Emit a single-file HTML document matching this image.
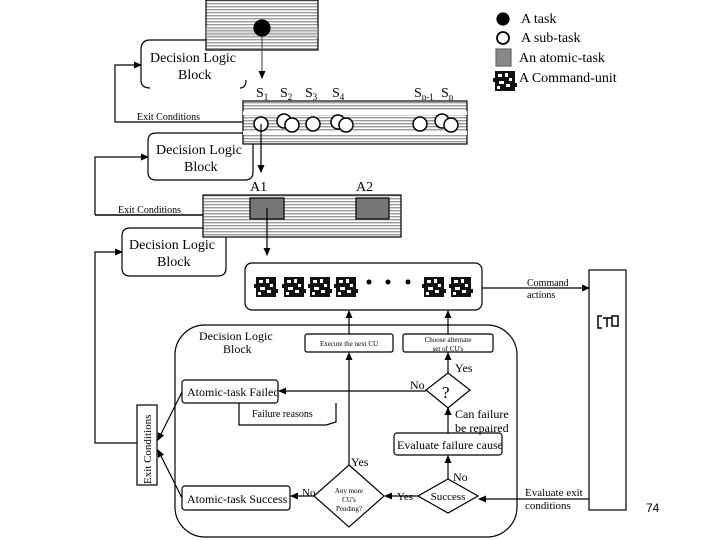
<!DOCTYPE html>
<html><head><style>
html,body{margin:0;padding:0;background:#fff;}
svg{display:block;font-family:"Liberation Serif",serif;}
</style></head><body>
<svg width="720" height="540" viewBox="0 0 720 540" xmlns="http://www.w3.org/2000/svg">
<defs>
<pattern id="st" width="4" height="3" patternUnits="userSpaceOnUse">
<rect width="4" height="3" fill="#fff"/><rect width="4" height="1.4" fill="#9a9a9a"/>
</pattern>
<marker id="ar" markerWidth="8" markerHeight="8" refX="7" refY="4" orient="auto" markerUnits="userSpaceOnUse">
<path d="M0,0.5 L8,4 L0,7.5 z" fill="#000"/></marker>
<g id="cu">
<rect x="0" y="0" width="20" height="20" fill="#111"/>
<rect x="3" y="3" width="4" height="3" fill="#fff"/><rect x="10" y="2" width="3" height="4" fill="#fff"/>
<rect x="14" y="7" width="3" height="3" fill="#fff"/><rect x="4" y="10" width="5" height="3" fill="#fff"/>
<rect x="11" y="13" width="4" height="3" fill="#fff"/><rect x="2" y="15" width="3" height="3" fill="#fff"/>
<rect x="-2" y="7" width="3" height="4" fill="#111"/><rect x="19" y="12" width="3" height="4" fill="#111"/>
</g>
</defs>
<g stroke="#000" fill="none" stroke-width="1.2">
<!-- top task box -->
<rect x="206" y="0" width="112" height="50" fill="url(#st)"/>
<rect x="206" y="27" width="112" height="11" fill="#bbb" stroke="none" opacity="0.5"/>
<circle cx="262" cy="28" r="8" fill="#000"/>
<line x1="262" y1="36" x2="262" y2="78" stroke="#555" marker-end="url(#ar)"/>
<path d="M206,40 H150 Q141,40 141,50 V80 Q141,88 150,88" />
<path d="M246,80 Q246,88 240,88"/>
<!-- exit 1 -->
<path d="M243,122 H115 V65 H141" marker-end="url(#ar)"/>
<!-- subtask box -->
<rect x="243" y="101" width="224" height="43" fill="url(#st)"/>
<rect x="243" y="111" width="224" height="4" fill="#fff" stroke="none"/>
<rect x="243" y="131" width="224" height="4" fill="#fff" stroke="none"/>
<g fill="#fff" stroke-width="1.5">
<circle cx="261" cy="124" r="7"/><circle cx="284" cy="121" r="7"/><circle cx="292" cy="125" r="7"/>
<circle cx="313" cy="124" r="7"/><circle cx="338" cy="122" r="7"/><circle cx="346" cy="125" r="7"/>
<circle cx="420" cy="124" r="7"/><circle cx="442" cy="121" r="7"/><circle cx="451" cy="125" r="7"/>
</g>
<line x1="261" y1="124" x2="261" y2="172" marker-end="url(#ar)"/>
<!-- DLB2 -->
<path d="M253,144 V172 Q253,180 245,180 H156 Q148,180 148,172 V141 Q148,133 156,133 H243"/>
<path d="M95,215 V157 H148" marker-end="url(#ar)"/>
<!-- atomic box -->
<rect x="203" y="195" width="198" height="42" fill="url(#st)"/>
<rect x="250" y="198" width="34" height="21" fill="#777"/>
<rect x="356" y="198" width="33" height="21" fill="#777"/>
<line x1="95" y1="215" x2="203" y2="215" stroke-width="1.5"/>
<line x1="267" y1="208" x2="267" y2="255" marker-end="url(#ar)"/>
<!-- DLB3 -->
<path d="M203,228 H130 Q122,228 122,236 V268 Q122,276 130,276 H218 Q226,276 226,268 V237"/>
<path d="M137,443 H95 V252 H122" marker-end="url(#ar)"/>
<!-- CU box -->
<rect x="245" y="263" width="237" height="47" rx="7"/>
<line x1="482" y1="288" x2="589" y2="288" marker-end="url(#ar)"/>
<rect x="589" y="270" width="37" height="240"/>
<path d="M602,316 H598 V328 H602 M603,318 H612 M607,318 V327 M612,316 V326 H618 V316 Z" stroke-width="1.5"/>
<!-- Big DLB -->
<rect x="175" y="325" width="342" height="212" rx="30"/>
<rect x="305" y="334" width="88" height="18" rx="2"/>
<rect x="403" y="334" width="90" height="18" rx="2"/>
<line x1="349" y1="334" x2="349" y2="311" marker-end="url(#ar)"/>
<line x1="448" y1="334" x2="448" y2="311" marker-end="url(#ar)"/>
<line x1="349" y1="465" x2="349" y2="353" marker-end="url(#ar)"/>
<polygon points="448,373 470,390 448,408 426,390"/>
<line x1="448" y1="373" x2="448" y2="353" marker-end="url(#ar)"/>
<rect x="182" y="380" width="96" height="23" rx="3"/>
<line x1="426" y1="391" x2="279" y2="391" marker-end="url(#ar)"/>
<path d="M239,403 V425 H326 L336,422 V403"/>
<rect x="394" y="433" width="108" height="22" rx="3"/>
<line x1="448" y1="433" x2="448" y2="408" marker-end="url(#ar)"/>
<polygon points="448,479 478,496 448,513 418,496"/>
<line x1="448" y1="479" x2="448" y2="456" marker-end="url(#ar)"/>
<polygon points="349,465 384,496 349,527 314,496"/>
<line x1="418" y1="496" x2="385" y2="496" marker-end="url(#ar)"/>
<rect x="182" y="486" width="108" height="24" rx="3"/>
<line x1="314" y1="496" x2="291" y2="496" marker-end="url(#ar)"/>
<line x1="589" y1="499" x2="479" y2="499" marker-end="url(#ar)"/>
<rect x="137" y="405" width="20" height="80"/>
<line x1="182" y1="392" x2="158" y2="440" marker-end="url(#ar)"/>
<line x1="182" y1="498" x2="158" y2="450" marker-end="url(#ar)"/>
<!-- legend -->
<circle cx="503" cy="19" r="6" fill="#000"/>
<circle cx="503" cy="38" r="6" fill="#fff" stroke-width="1.8"/>
<rect x="496" y="49" width="15" height="17" fill="#888" stroke="#666"/>
</g>
<use href="#cu" x="495" y="71" transform="translate(0,0)"/>
<use href="#cu" x="256" y="277"/><use href="#cu" x="284" y="277"/><use href="#cu" x="310" y="277"/><use href="#cu" x="336" y="277"/>
<use href="#cu" x="424" y="277"/><use href="#cu" x="451" y="277"/>
<circle cx="369" cy="282" r="2.5"/><circle cx="388" cy="282" r="2.5"/><circle cx="408" cy="282" r="2.5"/>
<g font-size="14" fill="#000">
<text x="150" y="62">Decision Logic</text><text x="178" y="79">Block</text>
<text x="156" y="154">Decision Logic</text><text x="184" y="171">Block</text>
<text x="129" y="249">Decision Logic</text><text x="157" y="266">Block</text>
<text x="250" y="191">A1</text><text x="356" y="191">A2</text>
<text x="256" y="97">S<tspan font-size="9" dy="3">1</tspan></text>
<text x="280" y="97">S<tspan font-size="9" dy="3">2</tspan></text>
<text x="305" y="97">S<tspan font-size="9" dy="3">3</tspan></text>
<text x="332" y="97">S<tspan font-size="9" dy="3">4</tspan></text>
<text x="414" y="97">S<tspan font-size="9" dy="3">n-1</tspan></text>
<text x="441" y="97">S<tspan font-size="9" dy="3">n</tspan></text>
<text x="521" y="23">A task</text><text x="521" y="42">A sub-task</text>
<text x="519" y="62">An atomic-task</text><text x="519" y="82">A Command-unit</text>
</g>
<g font-size="10" fill="#000">
<text x="137" y="120">Exit Conditions</text>
<text x="118" y="213">Exit Conditions</text>
<text x="527" y="286">Command</text><text x="527" y="298">actions</text>
<text x="199" y="340" font-size="12">Decision Logic</text><text x="223" y="353" font-size="12">Block</text>
<text x="349" y="346" font-size="7" text-anchor="middle">Execute the next CU</text>
<text x="448" y="342" font-size="7" text-anchor="middle">Choose alternate</text>
<text x="448" y="351" font-size="7" text-anchor="middle">set of CU's</text>
<text x="187" y="396" font-size="12">Atomic-task Failed</text>
<text x="252" y="417">Failure reasons</text>
<text x="442" y="398" font-size="17">?</text>
<text x="455" y="372" font-size="12">Yes</text><text x="410" y="389" font-size="12">No</text>
<text x="455" y="418" font-size="12">Can failure</text><text x="455" y="432" font-size="12">be repaired</text>
<text x="397" y="449" font-size="12">Evaluate failure cause</text>
<text x="453" y="481" font-size="12">No</text>
<text x="351" y="466" font-size="12">Yes</text>
<text x="448" y="500" font-size="11" text-anchor="middle">Success</text>
<text x="349" y="493" font-size="7" text-anchor="middle">Any more</text>
<text x="349" y="502" font-size="7" text-anchor="middle">CU's</text>
<text x="349" y="511" font-size="7" text-anchor="middle">Pending?</text>
<text x="397" y="500" font-size="11">Yes</text><text x="302" y="496" font-size="11">No</text>
<text x="187" y="503" font-size="12">Atomic-task Success</text>
<text x="525" y="496" font-size="11">Evaluate exit</text><text x="525" y="509" font-size="11">conditions</text>
<text transform="translate(151,484) rotate(-90)" font-size="11">Exit Conditions</text>
<text x="646" y="512" font-family="Liberation Sans, sans-serif" font-size="12">74</text>
</g>
</svg>
</body></html>
